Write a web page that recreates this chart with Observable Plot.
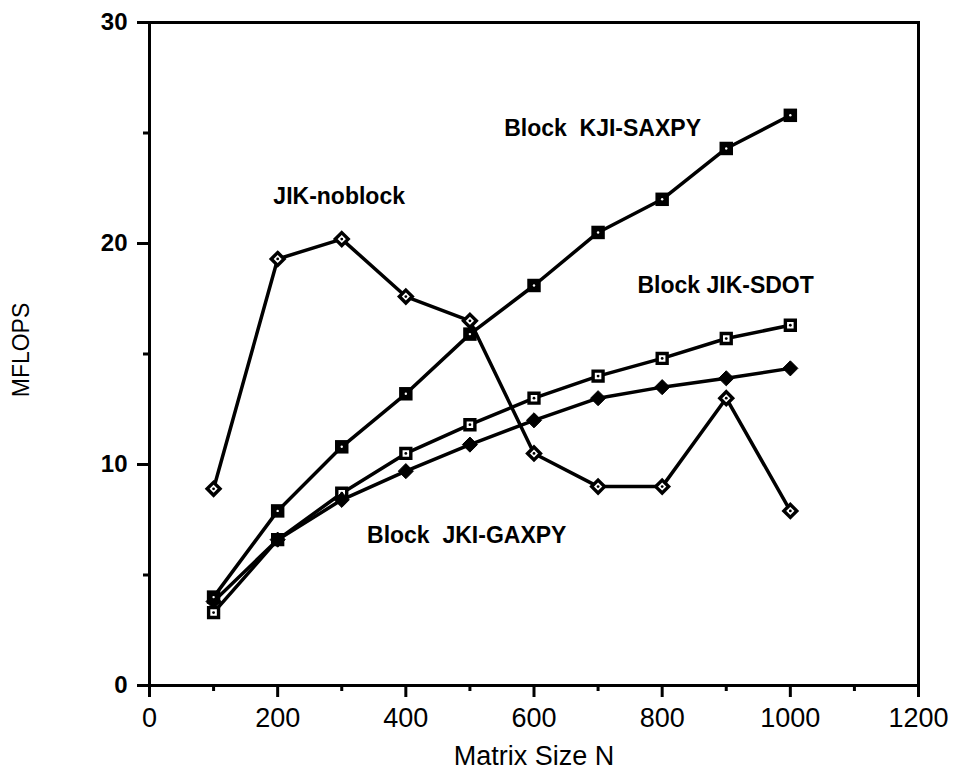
<!DOCTYPE html>
<html>
<head>
<meta charset="utf-8">
<script src="https://cdn.jsdelivr.net/npm/d3@7"></script>
<script src="https://cdn.jsdelivr.net/npm/@observablehq/plot@0.6"></script>
<style>
  html, body { margin: 0; padding: 0; background: #fff; }
  #chart svg { display: block; }
</style>
</head>
<body>
<div id="chart"></div>
<script>
// ---- data ----
const matrixSizes = [100, 200, 300, 400, 500, 600, 700, 800, 900, 1000];
const kjiSaxpy   = [4.0, 7.9, 10.8, 13.2, 15.9, 18.1, 20.5, 22.0, 24.3, 25.8];
const jikNoblock = [8.9, 19.3, 20.2, 17.6, 16.5, 10.5, 9.0, 9.0, 13.0, 7.9];
const jikSdot    = [3.3, 6.6, 8.7, 10.5, 11.8, 13.0, 14.0, 14.8, 15.7, 16.3];
const jkiGaxpy   = [3.8, 6.6, 8.4, 9.7, 10.9, 12.0, 13.0, 13.5, 13.9, 14.35];
const seriesNames = ["Block KJI-SAXPY", "JIK-noblock", "Block JIK-SDOT", "Block JKI-GAXPY"];

const labelTexts = ["Block  KJI-SAXPY", "JIK-noblock", "Block JIK-SDOT", "Block  JKI-GAXPY"];
const labelN     = [707, 296, 899, 495];
const labelMflops = [25.2, 22.1, 18.1, 6.8];

const xTicks = [0, 200, 400, 600, 800, 1000, 1200];
const xMinorTicks = [100, 300, 500, 700, 900, 1100];
const yTicks = [0, 10, 20, 30];
const yMinorTicks = [5, 15, 25];
const xTitle = "Matrix Size N";
const yTitle = "MFLOPS";

// ---- build tidy table ----
const seriesValues = [kjiSaxpy, jikNoblock, jikSdot, jkiGaxpy];
const rows = seriesNames.flatMap((s, i) =>
  matrixSizes.map((n, j) => ({series: s, n, v: seriesValues[i][j]})));
const bySeries = name => rows.filter(d => d.series === name);
const labels = labelTexts.map((t, i) => ({t, n: labelN[i], v: labelMflops[i]}));

// rotated-square symbol
const diamondSym = {
  draw(ctx, size) {
    const r = Math.sqrt(size) * 0.62625;
    ctx.moveTo(0, -r); ctx.lineTo(r, 0); ctx.lineTo(0, r); ctx.lineTo(-r, 0); ctx.closePath();
  }
};

const font = "'Liberation Sans', Arial, Helvetica, sans-serif";

const chart = Plot.plot({
  width: 954,
  height: 778,
  marginLeft: 149,
  marginRight: 36,
  marginTop: 22,
  marginBottom: 93,
  style: {fontFamily: font, background: "#fff", color: "#000"},
  x: {domain: [0, 1200], label: null},
  y: {domain: [0, 30], label: null},
  marks: [
    Plot.frame({stroke: "black", strokeWidth: 3}),
    Plot.axisX({ticks: xTicks, tickSize: 12, tickPadding: 10, strokeWidth: 3, fontSize: 27, label: null, tickFormat: d => String(d)}),
    Plot.axisX({ticks: xMinorTicks, tickSize: 6, strokeWidth: 3, label: null, tickFormat: () => ""}),
    Plot.axisY({ticks: yTicks, tickSize: 12, tickPadding: 10, strokeWidth: 3, fontSize: 24, fontWeight: "bold", label: null, tickFormat: d => String(d)}),
    Plot.axisY({ticks: yMinorTicks, tickSize: 6, strokeWidth: 3, label: null, tickFormat: () => ""}),
    Plot.text([xTitle], {text: d => d, frameAnchor: "bottom", lineAnchor: "middle", textAnchor: "middle", dy: 71, fontSize: 27}),
    Plot.text([yTitle], {text: d => d, frameAnchor: "left", lineAnchor: "middle", textAnchor: "middle", dx: -128, dy: -4, rotate: -90, fontSize: 23}),
    // lines
    Plot.line(rows, {x: "n", y: "v", z: "series", stroke: "black", strokeWidth: 3.5}),
    // Block JIK-SDOT: hollow square with centre dot
    Plot.dot(bySeries(seriesNames[2]), {x: "n", y: "v", symbol: "square", r: 5.6, fill: "white", stroke: "black", strokeWidth: 3.4}),
    Plot.dot(bySeries(seriesNames[2]), {x: "n", y: "v", r: 1.4, fill: "black"}),
    // Block JKI-GAXPY: filled diamond
    Plot.dot(bySeries(seriesNames[3]), {x: "n", y: "v", symbol: diamondSym, r: 6.8, fill: "black", stroke: "black", strokeWidth: 1}),
    // Block KJI-SAXPY: filled square with white dot
    Plot.dot(bySeries(seriesNames[0]), {x: "n", y: "v", symbol: "square", r: 7.6, fill: "black"}),
    Plot.dot(bySeries(seriesNames[0]), {x: "n", y: "v", r: 1.2, fill: "white"}),
    // JIK-noblock: hollow diamond with centre dot
    Plot.dot(bySeries(seriesNames[1]), {x: "n", y: "v", symbol: diamondSym, r: 5.8, fill: "white", stroke: "black", strokeWidth: 3.4}),
    Plot.dot(bySeries(seriesNames[1]), {x: "n", y: "v", r: 1.4, fill: "black"}),
    // series labels
    Plot.text(labels, {x: "n", y: "v", text: "t", fontSize: 23, fontWeight: "bold"})
  ]
});
document.getElementById("chart").append(chart);
</script>
</body>
</html>
